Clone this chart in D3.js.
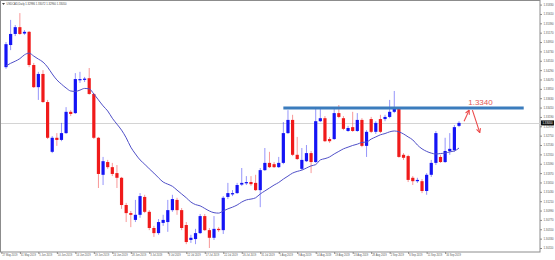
<!DOCTYPE html>
<html>
<head>
<meta charset="utf-8">
<script src="https://cdn.jsdelivr.net/npm/d3@7"></script>
<style>
  body { margin: 0; background: #fff; }
  svg { display: block; font-family: 'Liberation Sans', Arial, sans-serif; }
</style>
</head>
<body>
<div class="canvas"></div>
<script>
// USDCAD daily, one bar per trading day (Sunday bars included)
const opens  = [1.3436,1.3488,1.3514,1.3530,1.3515,1.3519,1.3441,1.3389,1.3420,1.3354,
                1.3237,1.3270,1.3265,1.3281,1.3331,1.3328,1.3406,1.3406,1.3410,1.3373,
                1.3270,1.3183,1.3213,1.3201,1.3187,1.3176,1.3112,1.3093,1.3077,1.3089,
                1.3131,1.3096,1.3058,1.3046,1.3070,1.3072,1.3100,1.3124,1.3100,1.3065,
                1.3030,1.3032,1.3046,1.3086,1.3053,1.3035,1.3056,1.3053,1.3131,1.3137,
                1.3140,1.3160,1.3163,1.3166,1.3164,1.3147,1.3194,1.3211,1.3208,1.3201,
                1.3211,1.3281,1.3312,1.3230,1.3197,1.3215,1.3234,1.3213,1.3309,1.3316,
                1.3267,1.3267,1.3328,1.3316,1.3286,1.3295,1.3286,1.3312,1.3251,1.3314,
                1.3284,1.3314,1.3314,1.3319,1.3331,1.3338,1.3230,1.3227,1.3176,1.3168,
                1.3168,1.3145,1.3183,1.3211,1.3225,1.3213,1.3239,1.3241,1.3298]
const highs  = [1.3495,1.3547,1.3535,1.3563,1.3523,1.3521,1.3446,1.3425,1.3429,1.3359,
                1.3274,1.3281,1.3305,1.3342,1.3335,1.3422,1.3425,1.3413,1.3434,1.3375,
                1.3272,1.3225,1.3218,1.3211,1.3206,1.3178,1.3117,1.3098,1.3124,1.3140,
                1.3136,1.3100,1.3063,1.3079,1.3089,1.3124,1.3136,1.3129,1.3105,1.3072,
                1.3042,1.3056,1.3091,1.3091,1.3058,1.3086,1.3060,1.3133,1.3164,1.3147,
                1.3164,1.3199,1.3180,1.3180,1.3183,1.3199,1.3246,1.3237,1.3213,1.3225,
                1.3307,1.3335,1.3324,1.3272,1.3246,1.3253,1.3239,1.3338,1.3338,1.3321,
                1.3272,1.3338,1.3347,1.3321,1.3298,1.3331,1.3328,1.3316,1.3288,1.3319,
                1.3309,1.3324,1.3324,1.3359,1.3380,1.3340,1.3234,1.3230,1.3180,1.3176,
                1.3173,1.3187,1.3218,1.3286,1.3230,1.3270,1.3281,1.3300,1.3309]
const lows   = [1.3432,1.3476,1.3509,1.3512,1.3512,1.3436,1.3387,1.3359,1.3352,1.3267,
                1.3234,1.3251,1.3262,1.3279,1.3321,1.3326,1.3399,1.3401,1.3371,1.3267,
                1.3152,1.3159,1.3197,1.3180,1.3152,1.3103,1.3072,1.3060,1.3072,1.3082,
                1.3093,1.3053,1.3037,1.3042,1.3063,1.3049,1.3096,1.3089,1.3053,1.3020,
                1.3023,1.3020,1.3044,1.3051,1.3011,1.3030,1.3049,1.3044,1.3126,1.3133,
                1.3138,1.3157,1.3159,1.3157,1.3145,1.3107,1.3192,1.3199,1.3199,1.3199,
                1.3208,1.3279,1.3227,1.3218,1.3194,1.3213,1.3187,1.3211,1.3307,1.3260,
                1.3258,1.3265,1.3316,1.3288,1.3284,1.3284,1.3284,1.3248,1.3225,1.3281,
                1.3279,1.3281,1.3309,1.3316,1.3328,1.3223,1.3218,1.3166,1.3159,1.3164,
                1.3140,1.3136,1.3178,1.3206,1.3211,1.3211,1.3230,1.3237,1.3295]
const closes = [1.3490,1.3514,1.3530,1.3514,1.3519,1.3441,1.3389,1.3420,1.3354,1.3270,
                1.3270,1.3265,1.3281,1.3331,1.3326,1.3408,1.3408,1.3409,1.3373,1.3270,
                1.3185,1.3215,1.3201,1.3185,1.3176,1.3112,1.3093,1.3089,1.3089,1.3133,
                1.3096,1.3058,1.3046,1.3072,1.3077,1.3100,1.3126,1.3100,1.3058,1.3025,
                1.3035,1.3046,1.3086,1.3053,1.3035,1.3056,1.3053,1.3129,1.3140,1.3140,
                1.3159,1.3164,1.3166,1.3161,1.3147,1.3194,1.3211,1.3201,1.3201,1.3211,
                1.3281,1.3312,1.3230,1.3220,1.3218,1.3234,1.3213,1.3309,1.3316,1.3262,
                1.3262,1.3328,1.3319,1.3291,1.3293,1.3286,1.3312,1.3251,1.3284,1.3284,
                1.3305,1.3284,1.3319,1.3331,1.3340,1.3225,1.3223,1.3171,1.3168,1.3171,
                1.3145,1.3183,1.3211,1.3281,1.3213,1.3239,1.3244,1.3295,1.3305]
// moving average as drawn on the chart
const maLine = [1.3439,1.3445,1.3450,1.3456,1.3465,1.3469,1.3462,1.3455,1.3448,1.3436,
                1.3420,1.3406,1.3396,1.3387,1.3380,1.3379,1.3382,1.3386,1.3385,1.3373,
                1.3359,1.3345,1.3333,1.3316,1.3302,1.3288,1.3270,1.3248,1.3232,1.3218,
                1.3208,1.3197,1.3187,1.3176,1.3166,1.3161,1.3156,1.3147,1.3138,1.3129,
                1.3119,1.3113,1.3110,1.3104,1.3098,1.3094,1.3093,1.3098,1.3103,1.3107,
                1.3112,1.3119,1.3124,1.3126,1.3129,1.3138,1.3145,1.3152,1.3159,1.3165,
                1.3173,1.3180,1.3187,1.3191,1.3194,1.3199,1.3204,1.3207,1.3218,1.3221,
                1.3225,1.3232,1.3238,1.3244,1.3248,1.3252,1.3255,1.3259,1.3260,1.3267,
                1.3272,1.3277,1.3280,1.3284,1.3286,1.3284,1.3279,1.3272,1.3265,1.3253,
                1.3244,1.3238,1.3234,1.3232,1.3233,1.3234,1.3237,1.3239,1.3246]

const priceTicks = [1.35830,1.35610,1.35390,1.35170,1.34950,1.34730,1.34510,1.34290,1.34070,
                    1.33850,1.33630,1.33410,1.33190,1.32970,1.32750,1.32530,1.32310,1.32090,
                    1.31870,1.31650,1.31430,1.31210,1.30990,1.30770,1.30550,1.30330,1.30110]
const dateLabels = ['27 May 2019','31 May 2019','5 Jun 2019','10 Jun 2019','14 Jun 2019',
                    '19 Jun 2019','24 Jun 2019','28 Jun 2019','3 Jul 2019','8 Jul 2019',
                    '12 Jul 2019','17 Jul 2019','22 Jul 2019','26 Jul 2019','31 Jul 2019',
                    '5 Aug 2019','9 Aug 2019','14 Aug 2019','19 Aug 2019','23 Aug 2019',
                    '28 Aug 2019','2 Sep 2019','6 Sep 2019','11 Sep 2019','16 Sep 2019']

const lastPrice = 1.33050
const resistance = 1.3340
const resistSpan = [60, 112]        // bar index where the drawn level starts / ends
const arrowUp = [[99.1, 1.3309], [100.2, 1.3335]]
const arrowDown = [[100.9, 1.3335], [102.5, 1.3282]]

const W = 555, H = 260
const plotR = 540, plotB = 252

const svg = d3.select('.canvas')
              .append('svg')
              .attr('width', W)
              .attr('height', H)

const x = d3.scaleLinear().domain([0, closes.length - 1]).range([6, 459])
const y = d3.scaleLinear().domain([1.30016, 1.35938]).range([plotB, 0])

const blue = '#1414f5', red = '#f01a1a'

// frame
svg.append('rect')
   .attr('x', 0.5).attr('y', 0.5)
   .attr('width', plotR - 0.5).attr('height', plotB - 0.5)
   .attr('fill', 'none').attr('stroke', '#8c8c8c').attr('stroke-width', 1)

// current price line
svg.append('line')
   .attr('x1', 1).attr('x2', plotR)
   .attr('y1', Math.round(y(lastPrice)) + 0.5).attr('y2', Math.round(y(lastPrice)) + 0.5)
   .attr('stroke', '#d4d4d4').attr('stroke-width', 1)

// axes
const yAxis = d3.axisRight(y)
  .tickValues(priceTicks)
  .tickFormat(d3.format('.5f'))
  .tickSize(2)
  .tickPadding(1.5)

const yg = svg.append('g').attr('transform', `translate(${plotR},0)`).call(yAxis)
yg.select('.domain').remove()
yg.selectAll('line').attr('stroke', '#888')
yg.selectAll('text').attr('font-size', 2.8).attr('fill', '#555')

const xAxis = d3.axisBottom(x)
  .tickValues(dateLabels.map((d, i) => i * 4 - 1))
  .tickFormat((d, i) => dateLabels[i])
  .tickSize(2)
  .tickPadding(0.5)

const xg = svg.append('g').attr('transform', `translate(0,${plotB})`).call(xAxis)
xg.select('.domain').remove()
xg.selectAll('line').attr('stroke', '#888')
xg.selectAll('text').attr('font-size', 2.6).attr('fill', '#555')
  .attr('text-anchor', 'start').attr('dx', 0.5)

// last price tag
svg.append('rect')
   .attr('x', plotR + 1).attr('y', y(lastPrice) - 2.5)
   .attr('width', 13).attr('height', 5)
   .attr('fill', '#111')
svg.append('text')
   .attr('x', plotR + 2.5).attr('y', y(lastPrice) + 1)
   .attr('font-size', 2.8).attr('fill', '#fff')
   .text(d3.format('.5f')(lastPrice))

// title
svg.append('path').attr('d', 'M2,3 L5,3 L3.5,5 Z').attr('fill', '#444')
svg.append('text')
   .attr('x', 6.5).attr('y', 5)
   .attr('font-size', 2.7).attr('fill', '#444')
   .text('USDCAD,Daily  1.32986 1.33072 1.32960 1.33050')

// candles
const bars = d3.range(closes.length)
const graph = svg.append('g')

graph.selectAll('line.wick')
     .data(bars)
     .enter()
     .append('line')
     .attr('class', 'wick')
     .attr('x1', i => x(i)).attr('x2', i => x(i))
     .attr('y1', i => y(highs[i])).attr('y2', i => y(lows[i]))
     .attr('stroke', i => closes[i] >= opens[i] ? blue : red)
     .attr('stroke-opacity', 0.45)
     .attr('stroke-width', 1)

graph.selectAll('rect.body')
     .data(bars)
     .enter()
     .append('rect')
     .attr('class', 'body')
     .attr('x', i => x(i) - 1.6)
     .attr('width', 3.2)
     .attr('y', i => y(Math.max(opens[i], closes[i])))
     .attr('height', i => Math.max(1.2, Math.abs(y(opens[i]) - y(closes[i]))))
     .attr('fill', i => closes[i] >= opens[i] ? blue : red)

// moving average
const ma = d3.line()
  .x((d, i) => x(i))
  .y(d => y(d))
  .curve(d3.curveMonotoneX)

svg.append('path')
   .datum(maLine)
   .attr('d', ma)
   .attr('fill', 'none')
   .attr('stroke', '#5050c8')
   .attr('stroke-width', 1)

// resistance level
svg.append('line')
   .attr('x1', x(resistSpan[0])).attr('x2', x(resistSpan[1]))
   .attr('y1', y(resistance)).attr('y2', y(resistance))
   .attr('stroke', '#3b7cbd').attr('stroke-width', 3)

svg.append('text')
   .attr('x', x(100)).attr('y', y(resistance) - 3)
   .attr('font-size', 8).attr('fill', '#e25656')
   .text(resistance.toFixed(4))

// arrows
svg.append('defs').append('marker')
   .attr('id', 'head')
   .attr('viewBox', '0 0 8 8')
   .attr('refX', 7).attr('refY', 4)
   .attr('markerWidth', 5).attr('markerHeight', 5)
   .attr('orient', 'auto')
   .append('path')
   .attr('d', 'M1,1 L7,4 L1,7')
   .attr('fill', 'none').attr('stroke', '#ec4a4a').attr('stroke-width', 1.5)

;[arrowUp, arrowDown].forEach(a => {
  svg.append('line')
     .attr('x1', x(a[0][0])).attr('y1', y(a[0][1]))
     .attr('x2', x(a[1][0])).attr('y2', y(a[1][1]))
     .attr('stroke', '#ec4a4a').attr('stroke-width', 1.1)
     .attr('marker-end', 'url(#head)')
})
</script>
</body>
</html>
